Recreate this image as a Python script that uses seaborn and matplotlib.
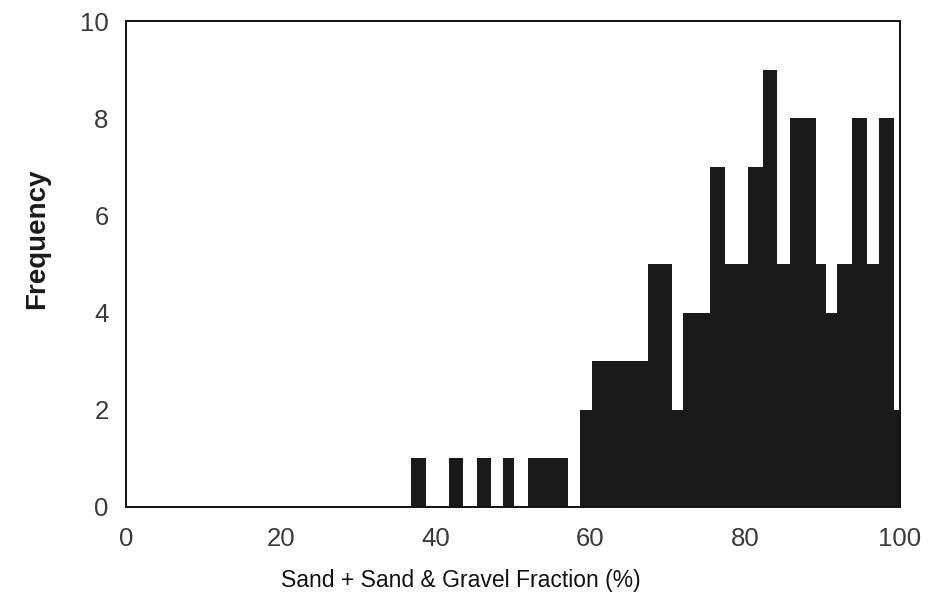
import numpy as np
import pandas as pd
import matplotlib
matplotlib.use("Agg")
import matplotlib.pyplot as plt
import seaborn as sns

# Histogram bin edges (% sand + sand & gravel)
bin_edges = [36.8, 38.7, 41.7, 43.6, 45.3, 47.2, 48.7, 50.1, 51.9, 57.1,
             58.7, 60.2, 67.4, 70.5, 72.0, 75.4, 77.4, 80.4, 82.3, 84.1,
             85.8, 89.1, 90.5, 91.9, 93.8, 95.7, 97.3, 99.2, 100.2]
# Frequency in each bin
counts = [1, 0, 1, 0, 1, 0, 1, 0, 1, 0,
          2, 3, 5, 2, 4, 7, 5, 7, 9, 5,
          8, 5, 4, 5, 8, 5, 8, 2]
x_ticks = [0, 20, 40, 60, 80, 100]
y_ticks = [0, 2, 4, 6, 8, 10]

mids = [(a + b) / 2 for a, b in zip(bin_edges[:-1], bin_edges[1:])]
df = pd.DataFrame({"fraction": mids, "count": counts})

sns.set_theme(style="white")
plt.rcParams["font.family"] = ["Liberation Sans", "DejaVu Sans"]

fig = plt.figure(figsize=(9.37, 5.94), dpi=100)
ax = fig.add_axes([0.1345, 0.1465, 0.826, 0.818])

sns.histplot(data=df, x="fraction", weights="count", bins=bin_edges,
             color="#1a1a1a", alpha=1.0, linewidth=0, ax=ax)

ax.set_xlim(0, 100)
ax.set_ylim(0, 10)
ax.set_xticks(x_ticks)
ax.set_yticks(y_ticks)
ax.tick_params(axis="both", direction="in", length=9, width=1.1,
               colors="#222222", labelsize=18.5, labelcolor="#3a3a3a")
ax.tick_params(axis="x", pad=14.5)
ax.tick_params(axis="y", pad=12.5)
for s in ax.spines.values():
    s.set_visible(True)
    s.set_color("#111111")
    s.set_linewidth(1.4)

ax.set_xlabel("Sand + Sand & Gravel Fraction (%)", fontsize=16.5, color="#111111")
ax.set_ylabel("Frequency", fontsize=20, fontweight="bold", color="#1a1a1a")
ax.xaxis.set_label_coords(0.433, -0.128)
ax.yaxis.set_label_coords(-0.098, 0.552)

fig.savefig("out.png", dpi=100)
